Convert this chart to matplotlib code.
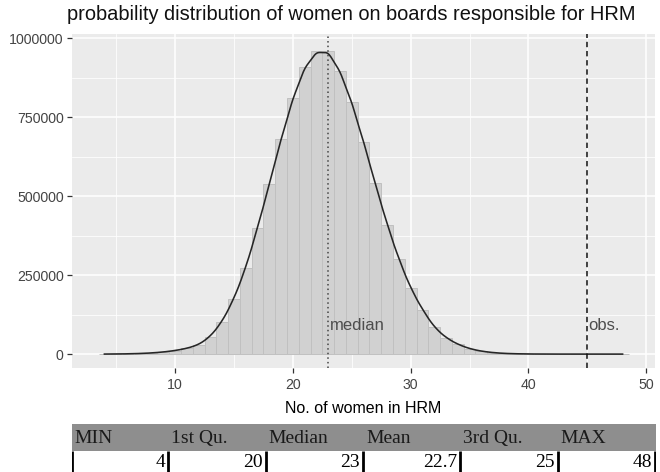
import numpy as np
import matplotlib
matplotlib.use("Agg")
import matplotlib.pyplot as plt

# ---- data ----
women = list(range(4, 49))
counts = [100, 300, 800, 1800, 3500, 6500, 11000, 18000, 29000, 55000,
          102000, 174000, 271000, 399000, 537000, 680000, 809000, 909000,
          958000, 960000, 897000, 798000, 672000, 540000, 410000, 300000,
          208000, 141000, 84500, 51600, 30700, 17000, 9000, 4500, 2000,
          900, 400, 150, 60, 25, 10, 4, 2, 1, 1]
median_value = 23
observed_value = 45
x_ticks = [10, 20, 30, 40, 50]
y_ticks = [0, 250000, 500000, 750000, 1000000]
stat_names = ["MIN", "1st Qu.", "Median", "Mean", "3rd Qu.", "MAX"]
stat_values = ["4", "20", "23", "22.7", "25", "48"]

W, H = 660, 472
fig = plt.figure(figsize=(W / 100, H / 100), dpi=100)
ax = fig.add_axes([72 / W, 1 - 368 / H, (655 - 72) / W, (368 - 34) / H])
ax.set_facecolor("#EBEBEB")

ax.set_xlim(1.25, 50.75)
ax.set_ylim(-44000, 1012700)
ax.set_xticks(x_ticks)
ax.set_xticks([5, 15, 25, 35, 45], minor=True)
ax.set_yticks(y_ticks)
ax.set_yticks([125000, 375000, 625000, 875000], minor=True)
ax.set_yticklabels([str(v) for v in y_ticks])
ax.grid(True, which="major", color="white", linewidth=1.1)
ax.grid(True, which="minor", color="white", linewidth=0.55)
ax.set_axisbelow(True)
for s in ax.spines.values():
    s.set_visible(False)
ax.tick_params(which="major", length=3.5, width=0.9, color="#333333",
               labelsize=10.2, labelcolor="#444444", pad=2.5)
ax.tick_params(axis="x", which="major", pad=3.5)
ax.tick_params(which="minor", length=0)
for lab in ax.get_xticklabels() + ax.get_yticklabels():
    lab.set_family("Liberation Sans")

# histogram bars
ax.bar(women, counts, width=1.0, color="#D1D1D1", edgecolor="#C0C0C0",
       linewidth=0.7, zorder=2)

# density curve (weighted gaussian kernel over the bar counts)
xs = np.linspace(min(women), max(women), 600)
cnt = np.array(counts, dtype=float)
pos = np.array(women, dtype=float)
bw = 0.6
dens = (cnt[None, :] * np.exp(-0.5 * ((xs[:, None] - pos[None, :]) / bw) ** 2)
        / (bw * np.sqrt(2 * np.pi))).sum(axis=1)
ax.plot(xs, dens, color="#262626", linewidth=1.15, zorder=4)

# reference lines
ax.axvline(median_value, color="#444444", linestyle=(0, (1, 2)), linewidth=1.1, zorder=5)
ax.axvline(observed_value, color="#111111", linestyle=(0, (3.5, 2.5)), linewidth=1.1, zorder=5)
ax.text(median_value + 0.15, 92000, "median", fontsize=12, color="#4D4D4D",
        family="Liberation Sans", ha="left", va="center", zorder=6)
ax.text(observed_value + 0.05, 92000, "obs.", fontsize=12, color="#4D4D4D",
        family="Liberation Sans", ha="left", va="center", zorder=6)

ax.set_xlabel("No. of women in HRM", fontsize=11.5, family="Liberation Sans",
              color="black", labelpad=7)
fig.text(67 / W, 1 - 14.5 / H,
         "probability distribution of women on boards responsible for HRM",
         fontsize=14.4, family="Liberation Sans", color="#111111",
         ha="left", va="center")

# summary table
tab = fig.add_axes([72 / W, 0, (656 - 72) / W, 48 / H])
tab.set_xlim(0, 6)
tab.set_ylim(0, 48)
tab.axis("off")
tab.add_patch(plt.Rectangle((0, 21), 6, 27, facecolor="#8E8E8E",
                            edgecolor="none", clip_on=False))
tab.plot([0.005, 0.005], [0, 21], color="black", linewidth=2, solid_capstyle="butt")
for i, (name, val) in enumerate(zip(stat_names, stat_values)):
    tab.text(i + 0.02, 28.7, name, fontsize=14, family="Liberation Serif",
             color="#1a1a1a", ha="left", va="baseline")
    tab.text(i + 0.96, 5, val, fontsize=14, family="Liberation Serif",
             color="black", ha="right", va="baseline")
    tab.plot([i + 1 - 0.01, i + 1 - 0.01], [0, 21], color="black",
             linewidth=2, solid_capstyle="butt")

fig.savefig("out.png", dpi=100)
